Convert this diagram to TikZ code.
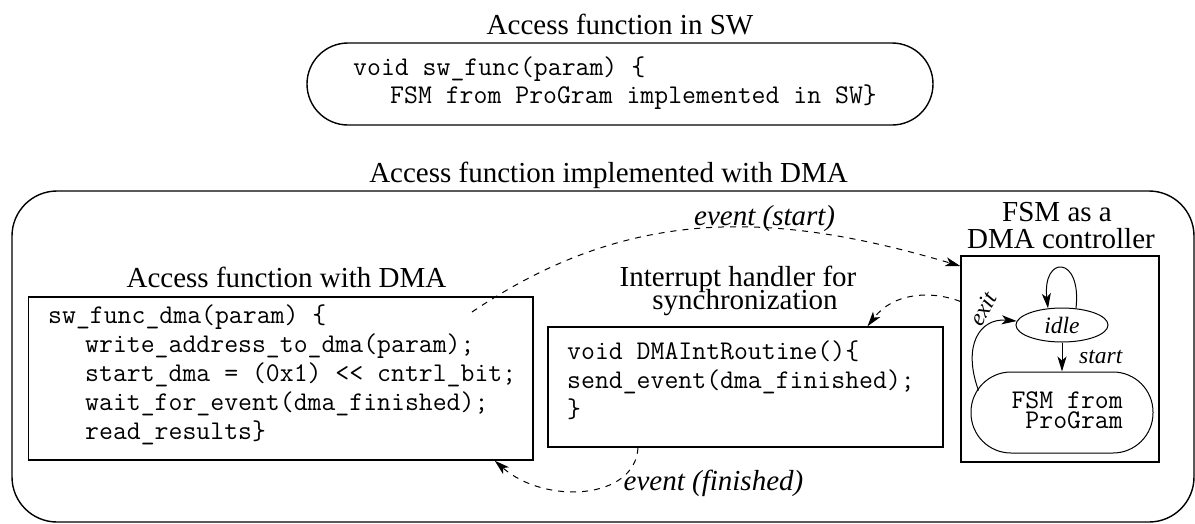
\documentclass[tikz,border=0pt]{standalone}
\usepackage{fontspec}
\setmainfont{Liberation Serif}
\usetikzlibrary{arrows.meta,shapes.geometric}

\begin{document}
\begin{tikzpicture}[x=1pt,y=-1pt,
    box/.style = {draw,line width=1.4pt,inner sep=0pt},
    title/.style = {font=\fontsize{29}{29}\selectfont,anchor=base,inner sep=0pt},
    code/.style = {font=\ttfamily\fontsize{27}{29}\selectfont,anchor=base west,inner sep=0pt},
    lbl/.style = {font=\fontsize{29}{29}\selectfont\itshape,anchor=base west,inner sep=0pt},
    small/.style = {font=\fontsize{23.5}{24}\selectfont\itshape,inner sep=0pt},
    arrow/.style = {line width=1pt,-{Stealth[length=15pt,width=9pt,inset=4pt]}},
    event/.style = {arrow,dash pattern=on 6pt off 6pt}]
    \useasboundingbox (0,0) rectangle (1195,523);

    % software only
    \node[title] (swtitle) at (620,34) {Access function in SW};
    \node[box,rounded corners=41pt,minimum width=626pt,minimum height=82pt] (swbox) at (620,84) {};
    \node[code] (swl1) at (353,75) {void sw\_func(param) \{};
    \node[code] (swl2) at (390,103) {FSM from ProGram implemented in SW\}};

    % DMA version
    \node[title] (dmatitle) at (608.5,182) {Access function implemented with DMA};
    \node[box,rounded corners=45pt,minimum width=1182pt,minimum height=331pt] (dmabox) at (603,356.5) {};

    \node[title] (acctitle) at (286.5,287) {Access function with DMA};
    \node[box,minimum width=504.5pt,minimum height=163pt] (accbox) at (280.75,378.5) {};
    \node[code] (accl1) at (48,323) {sw\_func\_dma(param) \{};
    \node[code] (accl2) at (85,352) {write\_address\_to\_dma(param);};
    \node[code] (accl3) at (85,381) {start\_dma = (0x1) << cntrl\_bit;};
    \node[code] (accl4) at (85,410) {wait\_for\_event(dma\_finished);};
    \node[code] (accl5) at (85,439) {read\_results\}};

    \node[title] (inttitle1) at (738,286) {Interrupt handler for};
    \node[title] (inttitle2) at (745,309) {synchronization};
    \node[box,minimum width=395pt,minimum height=120pt] (intbox) at (745.5,387) {};
    \node[code] (intl1) at (567,359) {void DMAIntRoutine()\{};
    \node[code] (intl2) at (567,388) {send\_event(dma\_finished);};
    \node[code] (intl3) at (567,417) {\}};

    \node[title] (fsmtitle1) at (1057,221) {FSM as a};
    \node[title] (fsmtitle2) at (1061,248) {DMA controller};
    \node[box,minimum width=198pt,minimum height=206pt] (fsmbox) at (1060,359) {};
    \node[draw,ellipse,line width=1pt,inner sep=0pt,minimum width=92pt,minimum height=34pt,small] (idle) at (1062,325) {idle};
    \node[draw,line width=1pt,rounded corners=40pt,minimum width=182pt,minimum height=81pt] (prog) at (1062,412.5) {};
    \node[code,anchor=base east] (progl1) at (1123,408) {FSM from};
    \node[code,anchor=base east] (progl2) at (1123,428) {ProGram};

    % state machine
    \draw[arrow] (idle.50) .. controls (1082,255) and (1042,255) .. (idle.130);
    \draw[arrow] (idle) -- (prog);
    \node[small,anchor=base west] (startlbl) at (1079,363) {start};
    \draw[arrow] ([shift={(8pt,22pt)}]prog.west) .. controls (962,345) and (980,318) .. (idle.175);
    \node[small,rotate=60] (exitlbl) at (983,309) {exit};

    % events
    \coordinate (evstart) at (472,312);
    \draw[event] (evstart) .. controls (630,205) and (774,211) .. (fsmbox.137);
    \node[lbl] (evstartlbl) at (694,225) {event (start)};
    \draw[event] (fsmbox.150) .. controls (930,290) and (893,293) .. ([xshift=122pt]intbox.north);
    \draw[event] ([xshift=-107.5pt]intbox.south) .. controls (635,500) and (545,505) .. ([xshift=214pt]accbox.south);
    \node[lbl] (evfinlbl) at (623.5,490) {event (finished)};
\end{tikzpicture}
\end{document}
